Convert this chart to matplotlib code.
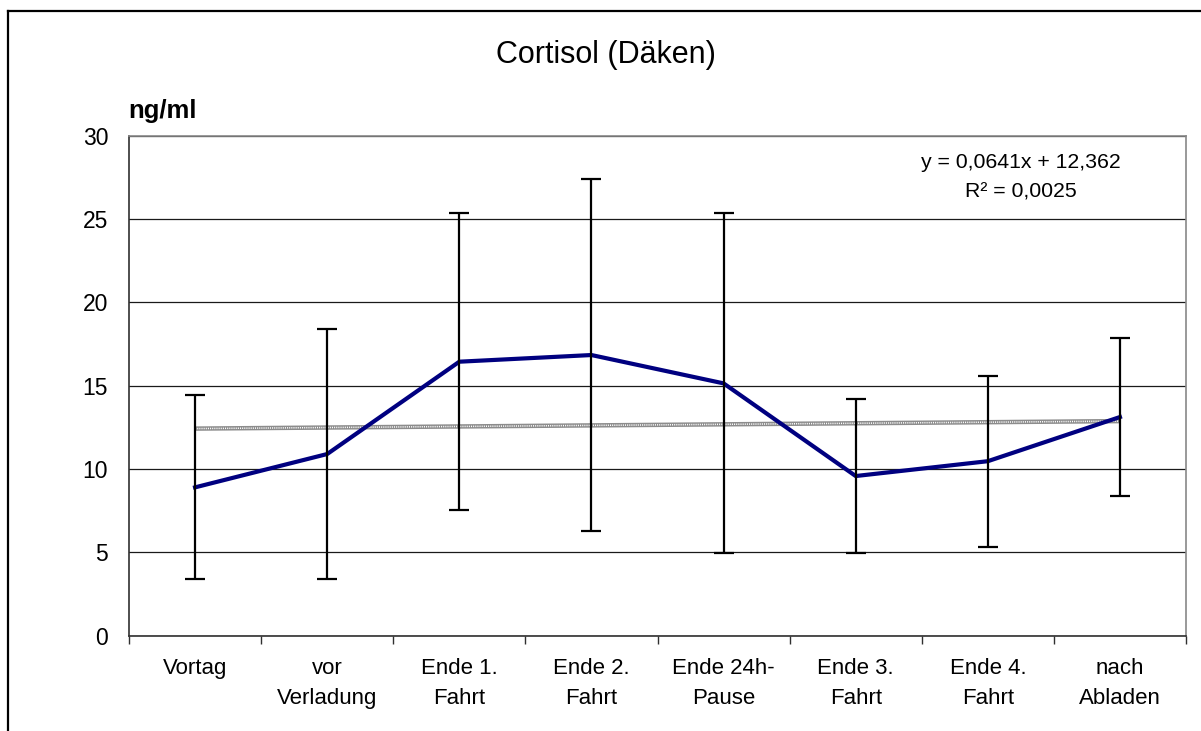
import numpy as np
import matplotlib
matplotlib.use("Agg")
import matplotlib.pyplot as plt
from matplotlib.lines import Line2D

plt.rcParams['font.family'] = ['Liberation Sans', 'DejaVu Sans']

# Messzeitpunkte
zeitpunkte = ["Vortag", "vor\nVerladung", "Ende 1.\nFahrt", "Ende 2.\nFahrt",
              "Ende 24h-\nPause", "Ende 3.\nFahrt", "Ende 4.\nFahrt", "nach\nAbladen"]
# Mittelwerte und Standardabweichung Cortisol (ng/ml)
mittelwert = [8.9, 10.9, 16.44, 16.84, 15.14, 9.58, 10.47, 13.12]
stdabw = [5.52, 7.52, 8.9, 10.54, 10.2, 4.62, 5.13, 4.74]
# lineare Trendlinie laut Excel
steigung = 0.0641
achsenabschnitt = 12.362
r_quadrat = 0.0025
y_ticks = [0, 5, 10, 15, 20, 25, 30]

W, H = 1201, 731
fig = plt.figure(figsize=(W / 100, H / 100), dpi=100)
ax = fig.add_axes([129 / W, 1 - 635.7 / H, (1186 - 129) / W, (635.7 - 135.7) / H])

x = np.arange(len(zeitpunkte))

# Trendlinie (grau, gerastert)
trend_x = x + 1
trend_y = steigung * trend_x + achsenabschnitt
ax.plot(x, trend_y, color="#8c8c8c", lw=3.2, solid_capstyle="butt", zorder=2)
ax.plot(x, trend_y, color="white", lw=1.1, dashes=(0.7, 0.7), zorder=2.1)

ax.plot(x, mittelwert, color="#000080", lw=3.0, zorder=3)
ax.errorbar(x, mittelwert, yerr=stdabw, fmt="none", ecolor="black",
            elinewidth=1.6, capsize=7.5, capthick=1.6, zorder=4)

ax.set_xlim(-0.5, len(zeitpunkte) - 0.5)
ax.set_ylim(0, 30)
ax.set_yticks(y_ticks)
ax.yaxis.grid(True, color="#1a1a1a", lw=0.9)
ax.set_axisbelow(True)
ax.tick_params(axis="y", length=0, labelsize=16.5, pad=15)

ax.set_xticks(x)
ax.set_xticklabels(zeitpunkte, fontsize=16, linespacing=1.55)
ax.set_xticks(np.arange(len(zeitpunkte) + 1) - 0.5, minor=True)
ax.tick_params(axis="x", which="major", length=0, pad=16)
ax.tick_params(axis="x", which="minor", length=6, width=1, color="#303030")

for side in ["left", "bottom"]:
    ax.spines[side].set_color("#303030")
    ax.spines[side].set_linewidth(1.2)
for side in ["top", "right"]:
    ax.spines[side].set_color("#888888")
    ax.spines[side].set_linewidth(1.2)

fig.text(606 / W, 1 - 55 / H, "Cortisol (Däken)", fontsize=22, ha="center", va="center")
fig.text(128 / W, 1 - 111 / H, "ng/ml", fontsize=18.5, fontweight="bold", ha="left", va="center")
gleichung = f"y = {steigung:.4f}x + {achsenabschnitt:.3f}".replace(".", ",")
bestimmtheit = f"R² = {r_quadrat:.4f}".replace(".", ",")
fig.text(1021 / W, 1 - 177 / H, gleichung + "\n" + bestimmtheit,
         fontsize=15.3, ha="center", va="center", multialignment="center", linespacing=1.7)

# Rahmen um das Diagramm
fig.add_artist(Line2D([8 / W, 8 / W], [0, 1 - 11 / H], color="black", lw=1.6))
fig.add_artist(Line2D([8 / W, 1], [1 - 11 / H, 1 - 11 / H], color="black", lw=1.6))

fig.savefig("out.png", dpi=100)
